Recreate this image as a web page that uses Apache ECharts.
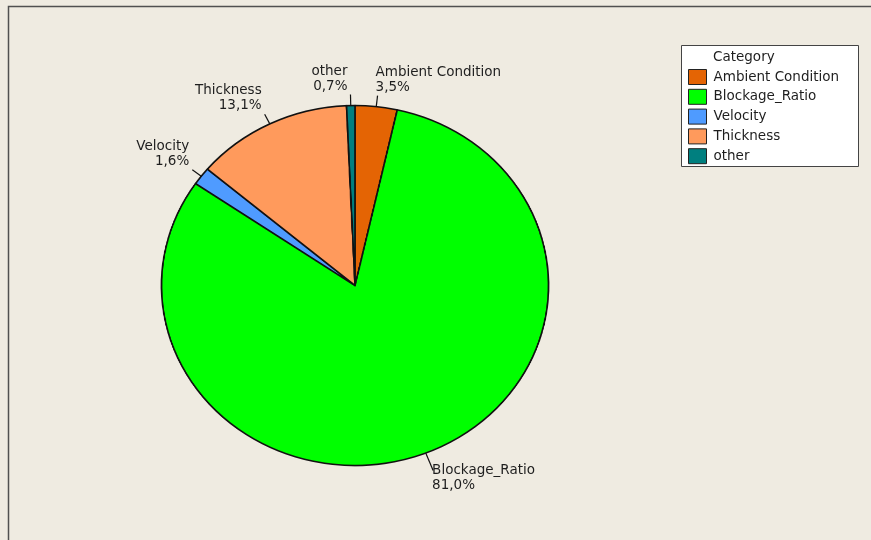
<!DOCTYPE html>
<html>
<head>
<meta charset="utf-8">
<script src="https://cdn.jsdelivr.net/npm/echarts@6/dist/echarts.min.js"></script>
<style>
  html, body { margin: 0; padding: 0; background: #EFEBE1; }
  #wrap { position: relative; width: 871px; height: 540px; overflow: hidden; }
  #pie, #chart { position: absolute; left: 0; top: 0; width: 871px; height: 540px; }
</style>
</head>
<body>
<div id="wrap">
  <div id="pie"></div>
  <div id="chart"></div>
</div>
<script>
// Share of each category, in percent
const categories = ['Ambient Condition', 'Blockage_Ratio', 'Velocity', 'Thickness', 'other'];
const shares = [3.5, 81.0, 1.6, 13.1, 0.7];
const colors = ['#E46404', '#00FF00', '#4F9BFF', '#FF9A5C', '#007F7F'];

// Pie geometry: the pie is an ellipse, drawn as a circle and stretched sideways
const CX = 355, CY = 285.5, RY = 180, RX = 193.5;
const SX = RX / RY;
const FONT = '"DejaVu Sans", Verdana, sans-serif';
const TEXT = '#1e1e1e';
const fmtPct = v => v.toFixed(1).replace('.', ',') + '%';

const pieData = categories.map((name, i) => ({ name, value: shares[i] }));

// Layer 1: coloured sectors, stretched horizontally
const pieEl = document.getElementById('pie');
pieEl.style.transformOrigin = CX + 'px ' + CY + 'px';
pieEl.style.transform = 'scaleX(' + SX + ')';
const pieChart = echarts.init(pieEl, null, { renderer: 'canvas', devicePixelRatio: 2 });
pieChart.setOption({
  animation: false,
  color: colors,
  series: [{
    type: 'pie',
    center: [CX, CY],
    radius: RY,
    startAngle: 90,
    clockwise: true,
    silent: true,
    label: { show: false },
    labelLine: { show: false },
    itemStyle: { borderColor: '#111', borderWidth: 1.6 },
    emphasis: { disabled: true },
    data: pieData
  }]
});

// Layer 2: frame, legend and slice labels (unstretched text)
const chart = echarts.init(document.getElementById('chart'), null, { renderer: 'canvas' });

function placeLabel(p) {
  const pts = p.labelLinePoints;
  if (!pts) return {};
  // edge point of the slice, moved onto the ellipse
  const ex = CX + (pts[0][0] - CX) * SX;
  const ey = pts[0][1];
  const dx = ex - CX, dy = ey - CY;
  const d = Math.hypot(dx, dy) || 1;
  const lower = dy > 0;
  const right = dx >= 0;
  const len = lower ? 19 : 11;
  const lx = ex + dx / d * len;
  const ly = ey + dy / d * len;
  return {
    x: lower ? lx - 1 : (right ? lx - 2 : lx - 3),
    y: lower ? ly - 8 : ly - 1,
    align: right ? 'left' : 'right',
    verticalAlign: lower ? 'top' : 'bottom',
    labelLinePoints: [[ex, ey], [lx, ly], [lx, ly]]
  };
}

chart.setOption({
  animation: false,
  backgroundColor: 'transparent',
  title: {
    text: 'Category',
    left: 713,
    top: 50,
    padding: 0,
    textStyle: { fontFamily: FONT, fontSize: 13.5, fontWeight: 'normal', color: TEXT }
  },
  legend: {
    orient: 'vertical',
    left: 688,
    top: 69,
    itemWidth: 18,
    itemHeight: 15,
    itemGap: 3.8,
    icon: 'rect',
    selectedMode: false,
    padding: 0,
    textStyle: { fontFamily: FONT, fontSize: 13.5, color: TEXT, lineHeight: 15, padding: [0, 0, 0, 2] },
    data: categories.map((name, i) => ({
      name,
      itemStyle: { color: colors[i], borderColor: '#222', borderWidth: 1, opacity: 1 }
    }))
  },
  graphic: [
    {
      type: 'polyline',
      silent: true,
      shape: { points: [[8.5, 600], [8.5, 6.5], [900, 6.5]] },
      style: { stroke: '#505050', lineWidth: 1.5, fill: null }
    },
    {
      type: 'rect',
      silent: true,
      z: -1,
      shape: { x: 681.5, y: 45.5, width: 177, height: 121 },
      style: { fill: '#ffffff', stroke: '#444', lineWidth: 1 }
    }
  ],
  series: [{
    type: 'pie',
    center: [CX, CY],
    radius: RY,
    startAngle: 90,
    clockwise: true,
    silent: true,
    avoidLabelOverlap: false,
    itemStyle: { color: 'rgba(0,0,0,0)', borderWidth: 0 },
    emphasis: { disabled: true },
    label: {
      show: true,
      position: 'outside',
      fontFamily: FONT,
      fontSize: 13.5,
      lineHeight: 15,
      color: TEXT,
      formatter: p => p.name + '\n' + fmtPct(p.value)
    },
    labelLine: { show: true, length: 11, length2: 0, lineStyle: { color: '#111', width: 1.2 } },
    labelLayout: placeLabel,
    data: pieData
  }]
});
</script>
</body>
</html>
